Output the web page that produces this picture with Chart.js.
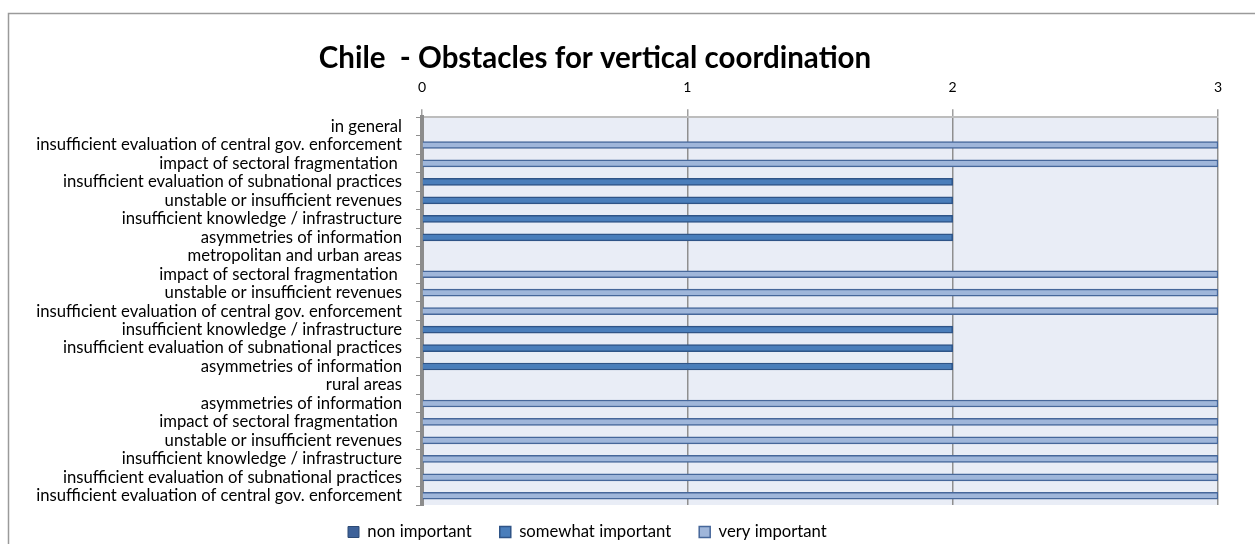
<!DOCTYPE html>
<html>
<head>
<meta charset="utf-8">
<script src="https://cdn.jsdelivr.net/npm/chart.js@4.4.1/dist/chart.umd.min.js"></script>
<style>
  html, body { margin: 0; padding: 0; background: #fff; }
  #wrap { width: 1255px; height: 544px; }
</style>
</head>
<body>
<div id="wrap"><canvas id="myChart" width="1255" height="544"></canvas></div>
<script>
const categories = [
    'in general',
    'insufficient evaluation of central gov. enforcement',
    'impact of sectoral fragmentation ',
    'insufficient evaluation of subnational practices',
    'unstable or insufficient revenues',
    'insufficient knowledge / infrastructure',
    'asymmetries of information',
    'metropolitan and urban areas',
    'impact of sectoral fragmentation ',
    'unstable or insufficient revenues',
    'insufficient evaluation of central gov. enforcement',
    'insufficient knowledge / infrastructure',
    'insufficient evaluation of subnational practices',
    'asymmetries of information',
    'rural areas',
    'asymmetries of information',
    'impact of sectoral fragmentation ',
    'unstable or insufficient revenues',
    'insufficient knowledge / infrastructure',
    'insufficient evaluation of subnational practices',
    'insufficient evaluation of central gov. enforcement'
];
const nonImportant = [null, null, null, null, null, null, null, null, null, null, null,
    null, null, null, null, null, null, null, null, null, null];
const somewhatImportant = [null, null, null, 2, 2, 2, 2, null, null, null, null,
    2, 2, 2, null, null, null, null, null, null, null];
const veryImportant = [null, 3, 3, null, null, null, null, null, 3, 3, 3,
    null, null, null, null, 3, 3, 3, 3, 3, 3];
const xTicks = [0, 1, 2, 3];

const LEGEND_PAD = 28;
const LABEL_SIZE = 16.7;

const ctx = document.getElementById('myChart');

// plot background + outer frame
const frame = {
    id: 'frame',
    beforeDraw(chart) {
        const c = chart.ctx;
        const a = chart.chartArea;
        c.save();
        c.fillStyle = '#E9EDF6';
        c.fillRect(a.left, a.top, a.right - a.left, a.bottom - a.top);
        c.strokeStyle = '#9a9a9a';
        c.lineWidth = 1.5;
        c.beginPath();
        c.moveTo(8.5, 544);
        c.lineTo(8.5, 13.5);
        c.lineTo(1255, 13.5);
        c.stroke();
        c.restore();
    },
    afterLayout(chart) {
        // nudge title and legend to where the reference has them
        const t = chart.titleBlock;
        const dx = 595 - (t.left + t.right) / 2;
        t.left += dx; t.right += dx;
        const lg = chart.legend;
        const lx = 348 - (lg.left + LEGEND_PAD);
        lg.left += lx; lg.right += lx;
        const ly = 532 - (lg.top + LEGEND_PAD + LABEL_SIZE / 2);
        lg.top += ly; lg.bottom += ly;
    }
};

new Chart(ctx, {
    type: 'bar',
    data: {
        labels: categories,
        datasets: [
            {
                label: 'non important',
                data: nonImportant,
                backgroundColor: '#3D6199',
                borderColor: '#2C4A75',
                borderWidth: 1,
                barThickness: 7
            },
            {
                label: 'somewhat important',
                data: somewhatImportant,
                backgroundColor: '#4A7EBB',
                borderColor: '#2F5487',
                borderWidth: 1.5,
                barThickness: 7
            },
            {
                label: 'very important',
                data: veryImportant,
                backgroundColor: '#9FB6DA',
                borderColor: '#46679A',
                borderWidth: 1.5,
                barThickness: 7
            }
        ]
    },
    options: {
        indexAxis: 'y',
        responsive: false,
        animation: false,
        layout: {
            padding: { left: 0, right: 37, top: 0, bottom: 39 - (LABEL_SIZE + LEGEND_PAD + 10) }
        },
        scales: {
            x: {
                position: 'top',
                min: 0,
                max: 3,
                afterBuildTicks: (scale) => {
                    scale.ticks = xTicks.map(v => ({ value: v }));
                },
                afterFit: (scale) => { scale.height = 41.6; },
                grid: {
                    color: '#8f8f8f',
                    lineWidth: 1.5,
                    tickLength: 8,
                    tickColor: '#a0a0a0'
                },
                border: { display: true, color: '#bdbdbd', width: 2 },
                ticks: {
                    color: '#000',
                    padding: 13,
                    font: { family: 'Lato', size: 14 }
                }
            },
            y: {
                stacked: true,
                afterFit: (scale) => { scale.width = 422; },
                grid: {
                    drawOnChartArea: false,
                    tickLength: 6,
                    tickColor: '#8f8f8f'
                },
                border: { display: true, color: '#8c8c8c', width: 4 },
                ticks: {
                    autoSkip: false,
                    color: '#000',
                    padding: 14,
                    font: { family: 'Lato', size: LABEL_SIZE }
                }
            }
        },
        plugins: {
            title: {
                display: true,
                text: 'Chile  - Obstacles for vertical coordination',
                color: '#000',
                font: { family: 'Lato', size: 29.5, weight: 'bold', lineHeight: 1.2 },
                padding: { top: 40.3, bottom: 0 }
            },
            legend: {
                position: 'bottom',
                align: 'start',
                labels: {
                    boxWidth: 11,
                    boxHeight: 11,
                    padding: LEGEND_PAD,
                    color: '#000',
                    font: { family: 'Lato', size: LABEL_SIZE }
                }
            },
            tooltip: { enabled: false }
        }
    },
    plugins: [frame]
});
</script>
</body>
</html>
